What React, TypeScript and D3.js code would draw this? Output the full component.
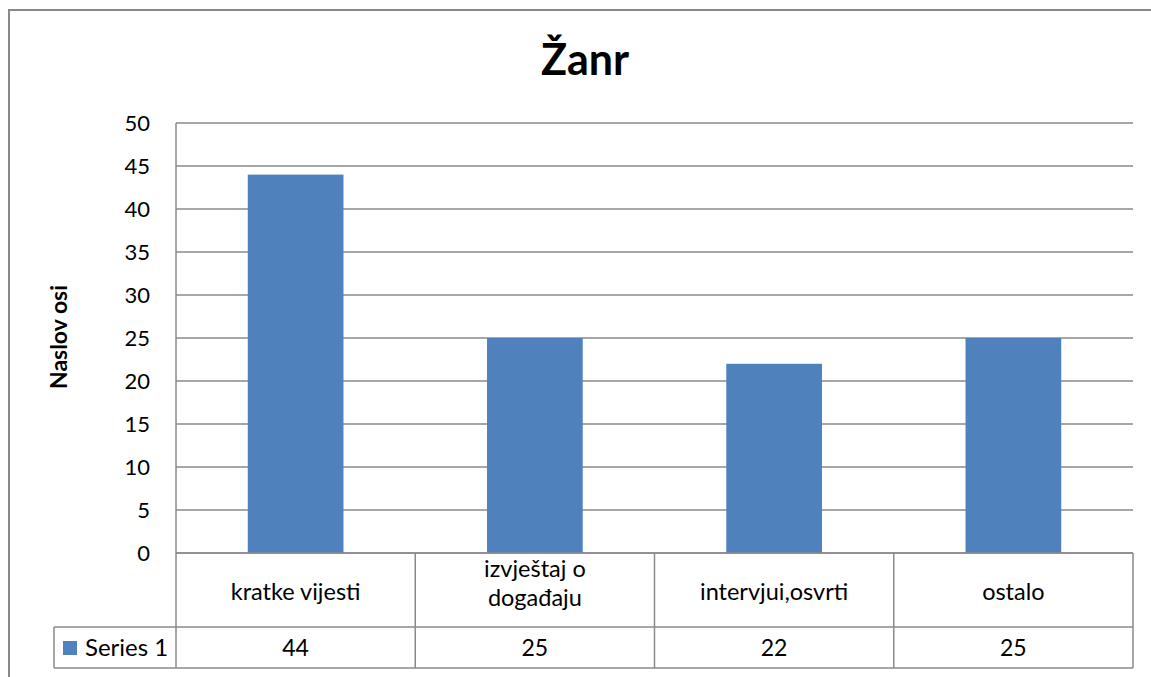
import { useEffect, useRef } from 'react'
import * as d3 from 'd3'

const categories = ['kratke vijesti', 'izvještaj o\ndogađaju', 'intervjui,osvrti', 'ostalo']
const values = [44, 25, 22, 25]
const seriesName = 'Series 1'
const yTicks = [0, 5, 10, 15, 20, 25, 30, 35, 40, 45, 50]
const chartTitle = 'Žanr'
const yTitle = 'Naslov osi'

const App = () => {
  const chartRef = useRef<SVGSVGElement | null>(null)

  useEffect(() => {
    const svg = d3.select(chartRef.current)
    svg.selectAll('*').remove()

    const font = 'Lato, "Open Sans", sans-serif'
    const gridColor = '#8a8a8a'
    const left = 176, right = 1133, top = 123, bottom = 553
    const catBottom = 627, valBottom = 668, legendLeft = 54

    // outer frame
    svg.append('rect')
      .attr('x', 9).attr('y', 10)
      .attr('width', 1160).attr('height', 690)
      .attr('fill', 'white')
      .attr('stroke', '#888').attr('stroke-width', 2)

    // scales
    const x = d3.scaleBand()
      .domain(categories)
      .range([left, right])
      .paddingInner(0.6)
      .paddingOuter(0.3)
    const y = d3.scaleLinear().domain([0, 50]).range([bottom, top])
    const step = x.step()

    // gridlines
    svg.append('g')
      .selectAll('line')
      .data(yTicks)
      .enter().append('line')
      .attr('x1', left).attr('x2', right)
      .attr('y1', d => y(d)).attr('y2', d => y(d))
      .attr('stroke', gridColor).attr('stroke-width', 1.5)

    // y tick labels
    svg.append('g')
      .selectAll('text')
      .data(yTicks)
      .enter().append('text')
      .attr('x', 150)
      .attr('y', d => y(d))
      .attr('dy', '0.35em')
      .attr('text-anchor', 'end')
      .attr('font-family', font)
      .attr('font-size', 22)
      .attr('fill', '#000')
      .text(d => d)

    // bars
    svg.append('g')
      .selectAll('rect')
      .data(values)
      .enter().append('rect')
      .attr('x', (d, i) => x(categories[i]) as number)
      .attr('width', x.bandwidth())
      .attr('y', d => y(d))
      .attr('height', d => y(0) - y(d))
      .attr('fill', '#4F81BD')

    // table lines
    const t = svg.append('g').attr('stroke', gridColor).attr('stroke-width', 1.5)
    t.append('line').attr('x1', left).attr('x2', left).attr('y1', top).attr('y2', valBottom)
    t.append('line').attr('x1', left).attr('x2', right).attr('y1', bottom).attr('y2', bottom)
    t.append('line').attr('x1', legendLeft).attr('x2', right).attr('y1', catBottom).attr('y2', catBottom)
    t.append('line').attr('x1', legendLeft).attr('x2', right).attr('y1', valBottom).attr('y2', valBottom)
    t.append('line').attr('x1', legendLeft).attr('x2', legendLeft).attr('y1', catBottom).attr('y2', valBottom)
    t.selectAll('line.sep')
      .data(categories)
      .enter().append('line')
      .attr('class', 'sep')
      .attr('x1', d => (x(d) as number) - x.bandwidth() * 0.75 + step)
      .attr('x2', d => (x(d) as number) - x.bandwidth() * 0.75 + step)
      .attr('y1', bottom).attr('y2', valBottom)

    // category labels (wrapped ones get one text per line)
    categories.forEach(c => {
      const lines = c.split('\n')
      const cx = (x(c) as number) + x.bandwidth() / 2
      lines.forEach((l, i) => {
        svg.append('text')
          .attr('x', cx)
          .attr('y', lines.length > 1 ? 577 + i * 28.5 : 600)
          .attr('text-anchor', 'middle')
          .attr('font-family', font)
          .attr('font-size', 23.5)
          .attr('fill', '#000')
          .text(l)
      })
    })

    // value row
    const valBase = 656
    svg.append('g')
      .selectAll('text')
      .data(values)
      .enter().append('text')
      .attr('x', (d, i) => (x(categories[i]) as number) + x.bandwidth() / 2)
      .attr('y', valBase)
      .attr('text-anchor', 'middle')
      .attr('font-family', font)
      .attr('font-size', 23)
      .attr('fill', '#000')
      .text(d => d)

    // legend key
    svg.append('rect')
      .attr('x', 63).attr('y', 641)
      .attr('width', 14).attr('height', 14)
      .attr('fill', '#4F81BD')
    svg.append('text')
      .attr('x', 85).attr('y', valBase)
      .attr('font-family', font)
      .attr('font-size', 24)
      .attr('fill', '#000')
      .text(seriesName)

    // title
    svg.append('text')
      .attr('x', 585).attr('y', 75)
      .attr('text-anchor', 'middle')
      .attr('font-family', font)
      .attr('font-weight', 'bold')
      .attr('font-size', 43)
      .attr('fill', '#000')
      .text(chartTitle)

    // y axis title
    svg.append('text')
      .attr('transform', 'translate(67,337) rotate(-90)')
      .attr('text-anchor', 'middle')
      .attr('font-family', font)
      .attr('font-weight', 'bold')
      .attr('font-size', 23)
      .attr('fill', '#000')
      .text(yTitle)
  }, [])

  return (
    <svg
      ref={chartRef}
      width={1151}
      height={677}
      style={{ position: 'absolute', left: 0, top: 0, background: 'white' }}
    />
  )
}

export default App
